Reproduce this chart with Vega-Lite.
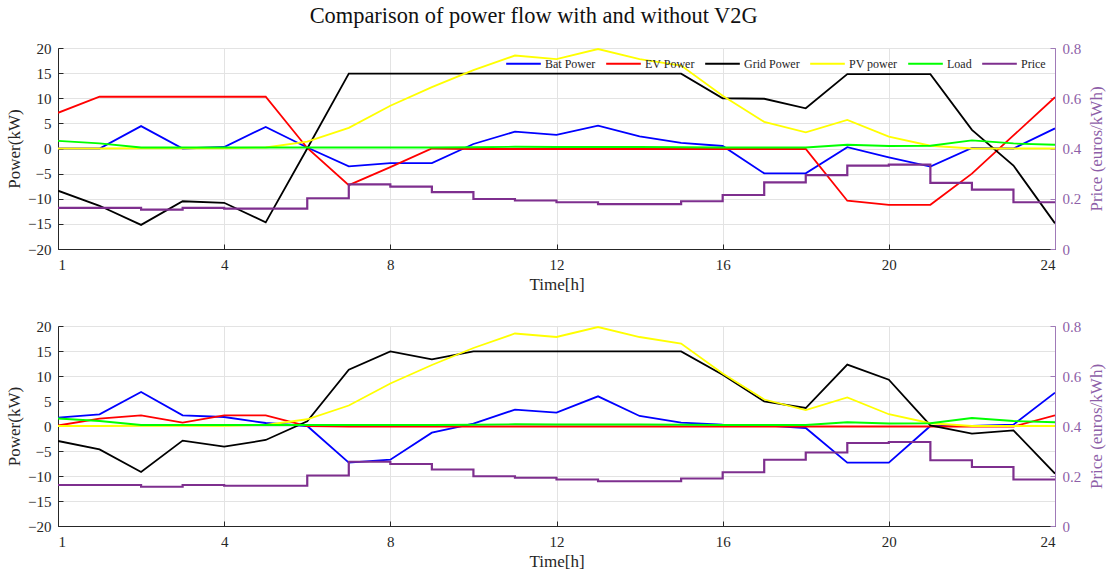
{
  "$schema": "https://vega.github.io/schema/vega-lite/v6.json",
  "background": "white",
  "padding": {"left": 5, "top": 5, "right": 5, "bottom": 5},
  "title": {"text": "Comparison of power flow with and without V2G", "font": "Liberation Serif", "fontSize": 22.4, "fontWeight": "normal", "color": "#111111", "anchor": "middle", "offset": 13, "dx": -21.5},
  "datasets": {
    "top": [
      {"t": 0, "Bat Power": 0, "EV Power": 7.1, "Grid Power": -8.4, "PV power": 0, "Load": 1.5, "Price": 0.164},
      {"t": 1, "Bat Power": 0, "EV Power": 10.3, "Grid Power": -11.4, "PV power": 0, "Load": 1.0, "Price": 0.164},
      {"t": 2, "Bat Power": 4.45, "EV Power": 10.3, "Grid Power": -15.2, "PV power": 0.05, "Load": 0.2, "Price": 0.157},
      {"t": 3, "Bat Power": 0, "EV Power": 10.3, "Grid Power": -10.5, "PV power": 0.05, "Load": 0.2, "Price": 0.164},
      {"t": 4, "Bat Power": 0.3, "EV Power": 10.3, "Grid Power": -10.8, "PV power": 0.05, "Load": 0.2, "Price": 0.161},
      {"t": 5, "Bat Power": 4.3, "EV Power": 10.3, "Grid Power": -14.7, "PV power": 0.2, "Load": 0.2, "Price": 0.161},
      {"t": 6, "Bat Power": 0.2, "EV Power": 0.1, "Grid Power": 0, "PV power": 1.35, "Load": 0.2, "Price": 0.202},
      {"t": 7, "Bat Power": -3.55, "EV Power": -7.3, "Grid Power": 14.9, "PV power": 4.1, "Load": 0.2, "Price": 0.257},
      {"t": 8, "Bat Power": -2.9, "EV Power": -3.7, "Grid Power": 14.9, "PV power": 8.5, "Load": 0.2, "Price": 0.248},
      {"t": 9, "Bat Power": -2.9, "EV Power": 0, "Grid Power": 14.9, "PV power": 12.2, "Load": 0.2, "Price": 0.226},
      {"t": 10, "Bat Power": 0.9, "EV Power": -0.1, "Grid Power": 14.9, "PV power": 15.6, "Load": 0.25, "Price": 0.199},
      {"t": 11, "Bat Power": 3.35, "EV Power": -0.1, "Grid Power": 14.9, "PV power": 18.5, "Load": 0.35, "Price": 0.193},
      {"t": 12, "Bat Power": 2.7, "EV Power": -0.1, "Grid Power": 14.9, "PV power": 17.8, "Load": 0.3, "Price": 0.186},
      {"t": 13, "Bat Power": 4.55, "EV Power": -0.1, "Grid Power": 14.9, "PV power": 19.8, "Load": 0.3, "Price": 0.179},
      {"t": 14, "Bat Power": 2.4, "EV Power": -0.1, "Grid Power": 14.9, "PV power": 17.8, "Load": 0.3, "Price": 0.179},
      {"t": 15, "Bat Power": 1.1, "EV Power": -0.1, "Grid Power": 14.9, "PV power": 16.5, "Load": 0.25, "Price": 0.19},
      {"t": 16, "Bat Power": 0.5, "EV Power": -0.1, "Grid Power": 10.0, "PV power": 10.5, "Load": 0.2, "Price": 0.215},
      {"t": 17, "Bat Power": -4.95, "EV Power": -0.1, "Grid Power": 9.9, "PV power": 5.3, "Load": 0.2, "Price": 0.265},
      {"t": 18, "Bat Power": -4.95, "EV Power": -0.1, "Grid Power": 8.0, "PV power": 3.2, "Load": 0.2, "Price": 0.294},
      {"t": 19, "Bat Power": 0.25, "EV Power": -10.4, "Grid Power": 14.8, "PV power": 5.7, "Load": 0.75, "Price": 0.332},
      {"t": 20, "Bat Power": -1.75, "EV Power": -11.2, "Grid Power": 14.8, "PV power": 2.35, "Load": 0.5, "Price": 0.336},
      {"t": 21, "Bat Power": -3.6, "EV Power": -11.2, "Grid Power": 14.8, "PV power": 0.55, "Load": 0.55, "Price": 0.263},
      {"t": 22, "Bat Power": 0.1, "EV Power": -5.0, "Grid Power": 3.7, "PV power": 0, "Load": 1.6, "Price": 0.236},
      {"t": 23, "Bat Power": 0, "EV Power": 2.6, "Grid Power": -3.4, "PV power": 0, "Load": 1.0, "Price": 0.186},
      {"t": 24, "Bat Power": 4.0, "EV Power": 10.2, "Grid Power": -14.9, "PV power": 0, "Load": 0.75, "Price": 0.186}
    ],
    "bottom": [
      {"t": 0, "Bat Power": 1.67, "EV Power": 0.1, "Grid Power": -3.0, "PV power": 0, "Load": 1.5, "Price": 0.164},
      {"t": 1, "Bat Power": 2.33, "EV Power": 1.47, "Grid Power": -4.67, "PV power": 0, "Load": 1.0, "Price": 0.164},
      {"t": 2, "Bat Power": 6.8, "EV Power": 2.13, "Grid Power": -9.2, "PV power": 0.05, "Load": 0.2, "Price": 0.157},
      {"t": 3, "Bat Power": 2.13, "EV Power": 0.67, "Grid Power": -2.93, "PV power": 0.05, "Load": 0.2, "Price": 0.164},
      {"t": 4, "Bat Power": 1.8, "EV Power": 2.13, "Grid Power": -4.13, "PV power": 0.05, "Load": 0.2, "Price": 0.161},
      {"t": 5, "Bat Power": 0.6, "EV Power": 2.13, "Grid Power": -2.8, "PV power": 0.2, "Load": 0.2, "Price": 0.161},
      {"t": 6, "Bat Power": 0, "EV Power": 0, "Grid Power": 0.93, "PV power": 1.35, "Load": 0.2, "Price": 0.202},
      {"t": 7, "Bat Power": -7.33, "EV Power": -0.1, "Grid Power": 11.27, "PV power": 4.1, "Load": 0.2, "Price": 0.257},
      {"t": 8, "Bat Power": -6.73, "EV Power": -0.1, "Grid Power": 14.93, "PV power": 8.5, "Load": 0.2, "Price": 0.248},
      {"t": 9, "Bat Power": -1.33, "EV Power": -0.1, "Grid Power": 13.33, "PV power": 12.2, "Load": 0.2, "Price": 0.226},
      {"t": 10, "Bat Power": 0.47, "EV Power": -0.1, "Grid Power": 14.93, "PV power": 15.6, "Load": 0.25, "Price": 0.199},
      {"t": 11, "Bat Power": 3.27, "EV Power": -0.1, "Grid Power": 14.93, "PV power": 18.5, "Load": 0.35, "Price": 0.193},
      {"t": 12, "Bat Power": 2.67, "EV Power": -0.1, "Grid Power": 14.93, "PV power": 17.8, "Load": 0.3, "Price": 0.186},
      {"t": 13, "Bat Power": 5.93, "EV Power": -0.1, "Grid Power": 14.93, "PV power": 19.8, "Load": 0.3, "Price": 0.179},
      {"t": 14, "Bat Power": 2.0, "EV Power": -0.1, "Grid Power": 14.93, "PV power": 17.8, "Load": 0.3, "Price": 0.179},
      {"t": 15, "Bat Power": 0.67, "EV Power": -0.1, "Grid Power": 14.93, "PV power": 16.5, "Load": 0.25, "Price": 0.19},
      {"t": 16, "Bat Power": 0.27, "EV Power": -0.1, "Grid Power": 10.27, "PV power": 10.5, "Load": 0.2, "Price": 0.215},
      {"t": 17, "Bat Power": 0.13, "EV Power": -0.1, "Grid Power": 4.93, "PV power": 5.3, "Load": 0.2, "Price": 0.265},
      {"t": 18, "Bat Power": -0.4, "EV Power": -0.1, "Grid Power": 3.6, "PV power": 3.2, "Load": 0.2, "Price": 0.294},
      {"t": 19, "Bat Power": -7.33, "EV Power": -0.1, "Grid Power": 12.27, "PV power": 5.7, "Load": 0.75, "Price": 0.332},
      {"t": 20, "Bat Power": -7.33, "EV Power": -0.1, "Grid Power": 9.27, "PV power": 2.35, "Load": 0.5, "Price": 0.336},
      {"t": 21, "Bat Power": 0, "EV Power": -0.1, "Grid Power": 0.13, "PV power": 0.55, "Load": 0.55, "Price": 0.263},
      {"t": 22, "Bat Power": 0, "EV Power": -0.1, "Grid Power": -1.53, "PV power": 0, "Load": 1.6, "Price": 0.236},
      {"t": 23, "Bat Power": 0.27, "EV Power": -0.1, "Grid Power": -0.87, "PV power": 0, "Load": 1.0, "Price": 0.186},
      {"t": 24, "Bat Power": 6.67, "EV Power": 2.13, "Grid Power": -9.53, "PV power": 0, "Load": 0.75, "Price": 0.186}
    ]
  },
  "config": {
    "font": "Liberation Serif",
    "view": {"stroke": "#262626", "strokeWidth": 1},
    "axis": {
      "labelFont": "Liberation Serif",
      "labelFontSize": 15,
      "labelColor": "#262626",
      "titleFont": "Liberation Serif",
      "titleFontSize": 17,
      "titleFontWeight": "normal",
      "titleColor": "#262626",
      "domainColor": "#262626",
      "tickColor": "#262626",
      "gridColor": "#e3e3e3",
      "gridWidth": 1
    },
    "legend": {"labelFont": "Liberation Serif", "labelFontSize": 12, "labelColor": "#262626"}
  },
  "vconcat": [
    {
      "width": 997,
      "height": 201,
      "data": {"name": "top"},
      "transform": [{"fold": ["Bat Power", "EV Power", "Grid Power", "PV power", "Load", "Price"], "as": ["series", "value"]}],
      "layer": [
        {
          "transform": [{"filter": "datum.series !== 'Price'"}],
          "mark": {"type": "line", "strokeWidth": 1.8, "clip": true},
          "encoding": {
            "x": {"field": "t", "type": "quantitative", "scale": {"domain": [0, 24], "nice": false, "zero": false},
                  "axis": {"values": [0, 4, 8, 12, 16, 20, 24], "title": "Time[h]", "labelExpr": "datum.value == 0 ? '1' : datum.label", "tickSize": -5, "labelPadding": 13, "titlePadding": 4, "grid": true}},
            "y": {"field": "value", "type": "quantitative", "scale": {"domain": [-20, 20], "nice": false},
                  "axis": {"values": [-20, -15, -10, -5, 0, 5, 10, 15, 20], "title": "Power(kW)", "tickSize": -5, "labelPadding": 12, "titlePadding": 4, "grid": true}},
            "color": {"field": "series", "type": "nominal",
                      "scale": {"domain": ["Bat Power", "EV Power", "Grid Power", "PV power", "Load", "Price"], "range": ["#0000ff", "#ff0000", "#000000", "#ffff00", "#00ff00", "#7e2f8e"]},
                      "legend": {"title": null, "orient": "none", "direction": "horizontal", "legendX": 447, "legendY": -3, "symbolType": "stroke", "symbolSize": 1200, "symbolStrokeWidth": 2, "columnPadding": 6, "labelOffset": 3}}
          }
        },
        {
          "transform": [{"filter": "datum.series === 'Price'"}],
          "mark": {"type": "line", "strokeWidth": 2.2, "interpolate": "step-after"},
          "encoding": {
            "x": {"field": "t", "type": "quantitative"},
            "y": {"field": "value", "type": "quantitative", "scale": {"domain": [0, 0.8], "nice": false},
                  "axis": {"orient": "right", "values": [0, 0.2, 0.4, 0.6, 0.8], "format": ".1~f", "title": "Price (euros/kWh)", "titleAngle": 270, "titleBaseline": "top", "grid": false, "labelColor": "#8e5fa8", "titleColor": "#8e5fa8", "domainColor": "#a07ab8", "tickColor": "#a07ab8", "tickSize": -5, "labelPadding": 12, "titlePadding": 8}},
            "color": {"field": "series", "type": "nominal"}
          }
        }
      ],
      "resolve": {"scale": {"y": "independent"}}
    },
    {
      "width": 997,
      "height": 200,
      "data": {"name": "bottom"},
      "transform": [{"fold": ["Bat Power", "EV Power", "Grid Power", "PV power", "Load", "Price"], "as": ["series", "value"]}],
      "layer": [
        {
          "transform": [{"filter": "datum.series !== 'Price'"}],
          "mark": {"type": "line", "strokeWidth": 1.8, "clip": true},
          "encoding": {
            "x": {"field": "t", "type": "quantitative", "scale": {"domain": [0, 24], "nice": false, "zero": false},
                  "axis": {"values": [0, 4, 8, 12, 16, 20, 24], "title": "Time[h]", "labelExpr": "datum.value == 0 ? '1' : datum.label", "tickSize": -5, "labelPadding": 13, "titlePadding": 4, "grid": true}},
            "y": {"field": "value", "type": "quantitative", "scale": {"domain": [-20, 20], "nice": false},
                  "axis": {"values": [-20, -15, -10, -5, 0, 5, 10, 15, 20], "title": "Power(kW)", "tickSize": -5, "labelPadding": 12, "titlePadding": 4, "grid": true}},
            "color": {"field": "series", "type": "nominal"}
          }
        },
        {
          "transform": [{"filter": "datum.series === 'Price'"}],
          "mark": {"type": "line", "strokeWidth": 2.2, "interpolate": "step-after"},
          "encoding": {
            "x": {"field": "t", "type": "quantitative"},
            "y": {"field": "value", "type": "quantitative", "scale": {"domain": [0, 0.8], "nice": false},
                  "axis": {"orient": "right", "values": [0, 0.2, 0.4, 0.6, 0.8], "format": ".1~f", "title": "Price (euros/kWh)", "titleAngle": 270, "titleBaseline": "top", "grid": false, "labelColor": "#8e5fa8", "titleColor": "#8e5fa8", "domainColor": "#a07ab8", "tickColor": "#a07ab8", "tickSize": -5, "labelPadding": 12, "titlePadding": 8}},
            "color": {"field": "series", "type": "nominal"}
          }
        }
      ],
      "resolve": {"scale": {"y": "independent"}}
    }
  ],
  "spacing": 25
}
